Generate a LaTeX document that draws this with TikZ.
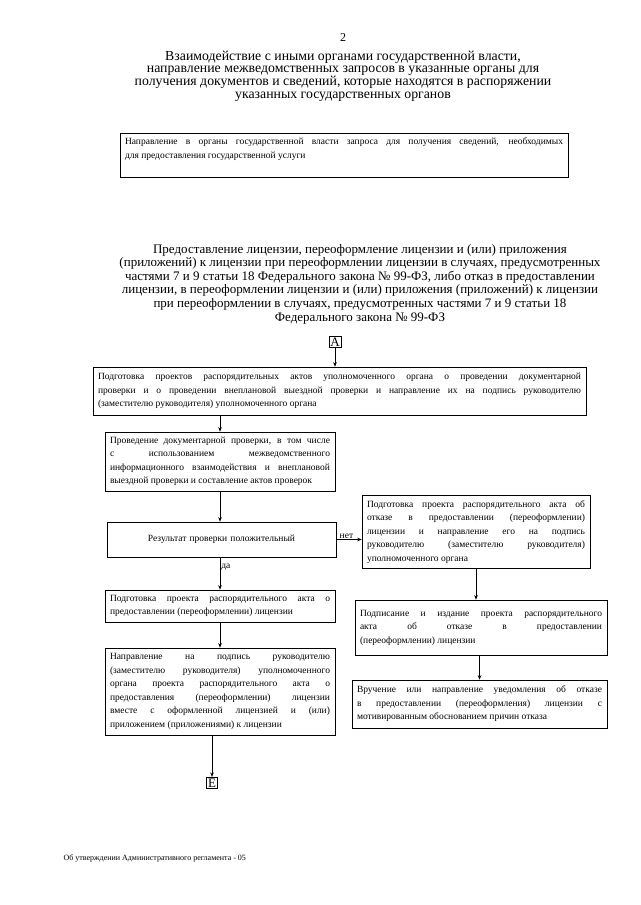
\documentclass[tikz,border=0pt]{standalone}
\usepackage{fontspec}
\setmainfont{Liberation Serif}
\usepackage{tikz}
\usetikzlibrary{arrows.meta,positioning,calc}
\tikzset{
  stepbox/.style={draw,line width=0.6pt,inner sep=5pt,align=justify,
    font=\fontsize{9.5}{13.5}\selectfont},
  letterbox/.style={draw,line width=0.6pt,inner sep=1.5pt,font=\fontsize{13}{13}\selectfont},
  headtext/.style={align=center,font=\fontsize{13.8}{12.2}\selectfont},
  flowarrow/.style={-{Stealth[length=4.5pt,width=3.5pt]},line width=0.6pt},
  yesno/.style={font=\fontsize{9.5}{10}\selectfont,inner sep=1pt}
}

\begin{document}
\begin{tikzpicture}[x=1pt,y=-1pt]
  \useasboundingbox (0,0) rectangle (640,905);
  \node[font=\fontsize{12}{12}\selectfont] (pagenum) at (343,38) {2};
  \node[headtext] (title1) at (343,76) {Взаимодействие с иными органами государственной власти,\\
    направление межведомственных запросов в указанные органы для\\
    получения документов и сведений, которые находятся в распоряжении\\
    указанных государственных органов};
  \node[stepbox,text width=438pt,minimum height=44pt] (request) at (344,155)
    {Направление в органы государственной власти запроса для получения сведений, необходимых\linebreak
    для предоставления государственной услуги\\ ~};
  \node[headtext,font=\fontsize{13}{13.6}\selectfont] (title2) at (360,284)
    {Предоставление лицензии, переоформление лицензии и (или) приложения\\
    (приложений) к лицензии при переоформлении лицензии в случаях, предусмотренных\\
    частями 7 и 9 статьи 18 Федерального закона № 99-ФЗ, либо отказ в предоставлении\\
    лицензии, в переоформлении лицензии и (или) приложения (приложений) к лицензии\\
    при переоформлении в случаях, предусмотренных частями 7 и 9 статьи 18\\
    Федерального закона № 99-ФЗ};
  \node[letterbox] (A) at (335,342) {А};
  % left column
  \node[stepbox,text width=483pt,minimum height=48pt] (orders) at (339.5,391)
    {Подготовка проектов распорядительных актов уполномоченного органа о проведении документарной\linebreak
    проверки и о проведении внеплановой выездной проверки и направление их на подпись руководителю\linebreak
    (заместителю руководителя) уполномоченного органа};
  \node[stepbox,text width=220pt,minimum height=59pt] (inspect) at (220,461.5)
    {Проведение документарной проверки, в том числе\linebreak
    с использованием межведомственного\linebreak
    информационного взаимодействия и внеплановой\linebreak
    выездной проверки и составление актов проверок};
  \node[stepbox,align=center,text width=219pt,minimum height=35pt] (result) at (221.5,539.5)
    {Результат проверки положительный};
  \node[stepbox,text width=220pt,minimum height=32pt] (grantdraft) at (220,606)
    {Подготовка проекта распорядительного акта о\linebreak
    предоставлении (переоформлении) лицензии};
  \node[stepbox,text width=220pt,minimum height=87pt] (grantsign) at (220,691.5)
    {Направление на подпись руководителю\linebreak
    (заместителю руководителя) уполномоченного\linebreak
    органа проекта распорядительного акта о\linebreak
    предоставления (переоформлении) лицензии\linebreak
    вместе с оформленной лицензией и (или)\linebreak
    приложением (приложениями) к лицензии};
  \node[letterbox] (E) at (212,783) {Е};
  % right column
  \node[stepbox,text width=218pt,minimum height=70pt] (refusedraft) at (476,532)
    {Подготовка проекта распорядительного акта об\linebreak
    отказе в предоставлении (переоформлении)\linebreak
    лицензии и направление его на подпись\linebreak
    руководителю (заместителю руководителя)\linebreak
    уполномоченного органа};
  \node[stepbox,text width=242pt,minimum height=55pt] (refusesign) at (481,627.5)
    {Подписание и издание проекта распорядительного\linebreak
    акта об отказе в предоставлении\linebreak
    (переоформлении) лицензии};
  \node[stepbox,text width=245pt,minimum height=48pt] (refusenote) at (479.5,704)
    {Вручение или направление уведомления об отказе\linebreak
    в предоставлении (переоформления) лицензии с\linebreak
    мотивированным обоснованием причин отказа};
  \node[font=\fontsize{8}{8}\selectfont,anchor=west] (footer) at (60,858)
    {Об утверждении Административного регламента - 05};
  % connectors
  \draw[flowarrow] (A) -- (A |- orders.north);
  \draw[flowarrow] (orders.south -| inspect.north) -- (inspect.north);
  \draw[flowarrow] (inspect.south) -- (inspect.south |- result.north);
  \draw[flowarrow] (result.east) -- node[yesno,above,pos=0.4]{нет} (result.east -| refusedraft.west);
  \draw[flowarrow] (result.south -| grantdraft.north) -- node[yesno,right,pos=0.3]{да} (grantdraft.north);
  \draw[flowarrow] (grantdraft.south) -- (grantsign.north);
  \draw[flowarrow] (E |- grantsign.south) -- (E);
  \draw[flowarrow] (refusedraft.south) -- (refusedraft.south |- refusesign.north);
  \draw[flowarrow] (refusesign.south -| refusenote.north) -- (refusenote.north);
\end{tikzpicture}
\end{document}
